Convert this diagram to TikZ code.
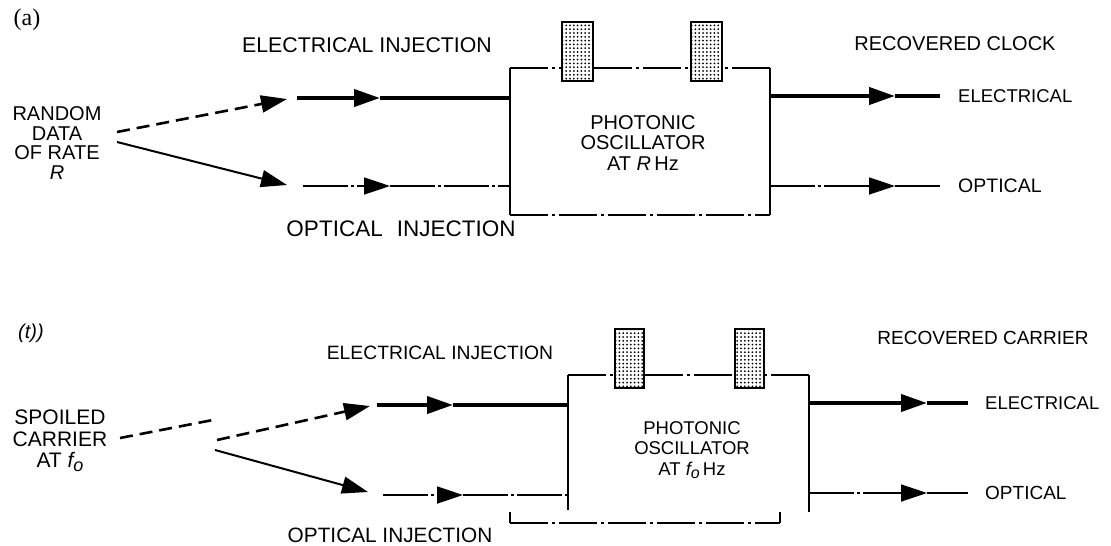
\documentclass[tikz,border=0pt]{standalone}
\usepackage{fontspec}
\newfontfamily\hv{Liberation Sans}
\newfontfamily\tms{Liberation Serif}
\usetikzlibrary{arrows.meta,patterns.meta}
\begin{document}
\begin{tikzpicture}[x=1pt,y=-1pt,
  lbl/.style={font=\hv\fontsize{#1}{#1}\selectfont, inner sep=0pt},
  lbl/.default=20,
  tip/.style={-{Triangle[length=26pt,width=17pt]}},
  thickln/.style={line width=4pt},
  thinln/.style={line width=2pt},
  opt/.style={line width=1.8pt, dash pattern=on 45pt off 3pt on 3pt off 3pt},
  optsolid/.style={line width=1.8pt},
  boxside/.style={line width=2pt},
  boxedge/.style={line width=1.8pt, dash pattern=on 38pt off 4pt on 3pt off 4pt},
  feed/.style={line width=2.6pt, dash pattern=on 13pt off 7pt},
  pad/.style={draw, line width=2.5pt, pattern={Dots[distance=3.8pt,radius=1pt]}, minimum height=59pt, inner sep=0pt},
  multi/.style={font=\hv\fontsize{#1}{20.5}\selectfont, align=center, inner sep=0pt}
]
\useasboundingbox (0,0) rectangle (1111,546);

% ---------------- panel (a)
\node[font=\tms\fontsize{24}{24}\selectfont, inner sep=0pt] (la) at (27,20) {(a)};
\node[lbl=21.3] (eia) at (367,45) {ELECTRICAL INJECTION};
\node[lbl=22.5] (oia) at (401,229) {OPTICAL\hspace{14pt}INJECTION};
\node[font=\hv\fontsize{20}{19.5}\selectfont, align=center, inner sep=0pt] (srca) at (57,143) {RANDOM\\DATA\\OF RATE\\\textit{R}};

\node[minimum width=260pt, minimum height=147pt, inner sep=0pt] (bxa) at (640,141.5) {};
\node[multi=20] (txa) at (643,143) {PHOTONIC\\OSCILLATOR\\AT \textit{R}\,Hz};

\node[pad, minimum width=31pt] (pa1) at (577.5,51.5) {};
\node[pad, minimum width=31pt] (pa2) at (706.5,51.5) {};

\node[lbl=20] (rca) at (955,44) {RECOVERED CLOCK};
\node[lbl=18.5, anchor=west] (ela) at (958,96) {ELECTRICAL};
\node[lbl=19.5, anchor=west] (opa) at (958,186) {OPTICAL};

\coordinate (a1) at (117,132); \coordinate (a2) at (287,99);
\coordinate (a3) at (117,142); \coordinate (a4) at (287,185);
\coordinate (a5) at (297,98);  \coordinate (a6) at (380,98);
\coordinate (a7) at (303,186); \coordinate (a8) at (390,186);
\coordinate (a9) at (895,96);  \coordinate (a10) at (940,96);
\coordinate (a11) at (895,186); \coordinate (a12) at (940,186);

\draw[feed, tip] (a1) -- (a2);
\draw[thinln, tip] (a3) -- (a4);
\draw[thickln, tip] (a5) -- (a6);
\draw[thickln] (a6) -- (a5 -| bxa.west);
\draw[opt, tip] (a7) -- (a8);
\draw[opt] (a8) -- (a7 -| bxa.west);

\draw[boxside] (bxa.north west) -- (bxa.south west);
\draw[boxside] (bxa.north east) -- (bxa.south east);
\draw[boxedge] (bxa.north west) -- (pa1.west |- bxa.north);
\draw[boxedge] (pa1.east |- bxa.north) -- (pa2.west |- bxa.north);
\draw[boxedge] (bxa.north east) -- (pa2.east |- bxa.north);
\draw[boxedge] (bxa.south west) -- (bxa.south east);

\draw[thickln, tip] (a9 -| bxa.east) -- (a9);
\draw[thickln] (a9) -- (a10);
\draw[opt, tip] (a11 -| bxa.east) -- (a11);
\draw[optsolid] (a11) -- (a12);

% ---------------- panel (b)
\node[font=\hv\itshape\fontsize{20}{20}\selectfont, inner sep=0pt] (lb) at (31,333) {(t))};
\node[font=\hv\fontsize{21}{21.5}\selectfont, align=center, inner sep=0pt] (srcb) at (60,441)
  {SPOILED\\CARRIER\\AT {\itshape f\raisebox{-0.35ex}{\fontsize{18}{18}\selectfont o}}};
\node[lbl=19.3] (eib) at (440,353) {ELECTRICAL INJECTION};
\node[lbl=20.8] (oib) at (390,535) {OPTICAL INJECTION};

\node[minimum width=241pt, minimum height=135pt, inner sep=0pt] (bxb) at (688.5,442.5) {};
\node[multi=18.5] (txb) at (692,450) {PHOTONIC\\OSCILLATOR\\AT {\itshape f\raisebox{-0.35ex}{\fontsize{16}{16}\selectfont o}}\,Hz};

\node[pad, minimum width=29pt] (pb1) at (629.5,358.5) {};
\node[pad, minimum width=29pt] (pb2) at (749.5,358.5) {};

\node[lbl=19] (rcb) at (983,338) {RECOVERED CARRIER};
\node[lbl=18.5, anchor=west] (elb) at (985,403) {ELECTRICAL};
\node[lbl=19, anchor=west] (opb) at (985,493) {OPTICAL};

\coordinate (b1) at (120,438); \coordinate (b2) at (218,419);
\coordinate (b3) at (217,440); \coordinate (b4) at (370,406);
\coordinate (b5) at (215,450); \coordinate (b6) at (368,492);
\coordinate (b7) at (377,405); \coordinate (b8) at (453,405);
\coordinate (b9) at (383,495); \coordinate (b10) at (463,495);
\coordinate (b11) at (927,403); \coordinate (b12) at (968,403);
\coordinate (b13) at (927,493); \coordinate (b14) at (968,493);
\coordinate (k1) at (510,512); \coordinate (k2) at (510,523);
\coordinate (k3) at (780,523); \coordinate (k4) at (780,512);

\draw[feed] (b1) -- (b2);
\draw[feed, tip] (b3) -- (b4);
\draw[thinln, tip] (b5) -- (b6);
\draw[thickln, tip] (b7) -- (b8);
\draw[thickln] (b8) -- (b7 -| bxb.west);
\draw[opt, tip] (b9) -- (b10);
\draw[opt] (b10) -- (b9 -| bxb.west);

\draw[boxside] (bxb.north west) -- (bxb.south west);
\draw[boxside] (bxb.north east) -- ++(0,137);
\draw[boxedge] (bxb.north west) -- (pb1.west |- bxb.north);
\draw[boxedge] (pb1.east |- bxb.north) -- (pb2.west |- bxb.north);
\draw[boxedge] (bxb.north east) -- (pb2.east |- bxb.north);
\draw[boxside] (k1) -- (k2);
\draw[boxedge] (k2) -- (k3);
\draw[boxside] (k3) -- (k4);

\draw[thickln, tip] (b11 -| bxb.east) -- (b11);
\draw[thickln] (b11) -- (b12);
\draw[opt, tip] (b13 -| bxb.east) -- (b13);
\draw[optsolid] (b13) -- (b14);
\end{tikzpicture}
\end{document}
